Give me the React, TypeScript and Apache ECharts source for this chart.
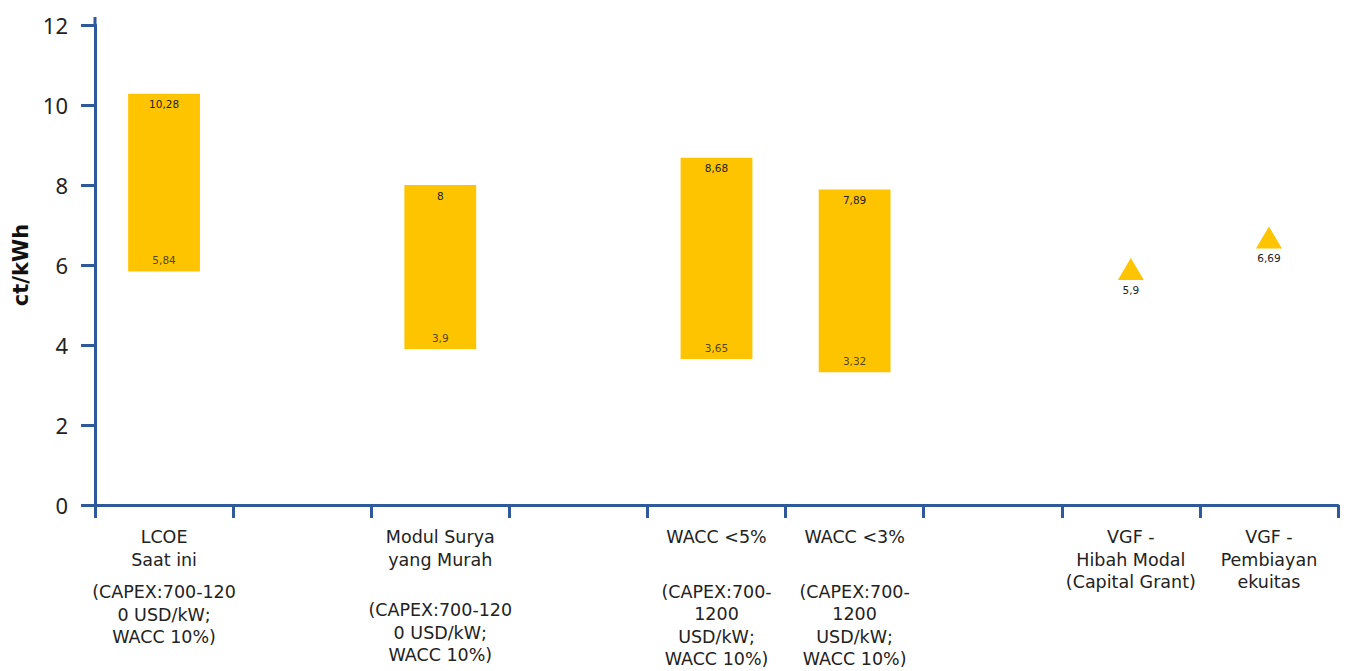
import React, { useEffect, useRef } from "react";
import * as echarts from "echarts";

const categories = [
  "{t|LCOE}\n{t|Saat ini}\n{g10| }\n{t|(CAPEX:700-120}\n{t|0 USD/kW;}\n{t|WACC 10%)}",
  "",
  "{t|Modul Surya}\n{t|yang Murah}\n{g28| }\n{t|(CAPEX:700-120}\n{t|0 USD/kW;}\n{t|WACC 10%)}",
  "",
  "{t|WACC <5%}\n{g32| }\n{t|(CAPEX:700-}\n{t|1200}\n{t|USD/kW;}\n{t|WACC 10%)}",
  "{t|WACC <3%}\n{g32| }\n{t|(CAPEX:700-}\n{t|1200}\n{t|USD/kW;}\n{t|WACC 10%)}",
  "",
  "{t|VGF -}\n{t|Hibah Modal}\n{t|(Capital Grant)}",
  "{t|VGF -}\n{t|Pembiayan}\n{t|ekuitas}",
];
const lows: (number | null)[] = [5.84, null, 3.9, null, 3.65, 3.32, null, null, null];
const highs: (number | null)[] = [10.28, null, 8, null, 8.68, 7.89, null, null, null];
const markers: (number | null)[] = [null, null, null, null, null, null, null, 5.9, 6.69];
const yTicks = { min: 0, max: 12, interval: 2 };

const FONT = "DejaVu Sans";
const BLUE = "#2E5A9C";
const YELLOW = "#FFC400";

const fmt = (v: number | null) => (v == null ? "" : String(v).replace(".", ","));

export default function App() {
  const ref = useRef<HTMLDivElement>(null);
  useEffect(() => {
    if (!ref.current) return;
    const chart = echarts.init(ref.current, null, { renderer: "svg" });
    const dash = (a: (number | null)[]) => a.map((v) => (v == null ? "-" : v));
    const diffs = lows.map((l, i) =>
      l == null || highs[i] == null ? "-" : +((highs[i] as number) - l).toFixed(4)
    );
    chart.setOption({
      animation: false,
      textStyle: { fontFamily: FONT },
      grid: { left: 95, right: 10, top: 25, bottom: 166, containLabel: false },
      graphic: [
        {
          type: "line",
          shape: { x1: 95, y1: 17, x2: 95, y2: 26 },
          style: { stroke: BLUE, lineWidth: 3 },
          silent: true,
        },
      ],
      xAxis: {
        type: "category",
        data: categories,
        boundaryGap: true,
        axisLine: { lineStyle: { color: BLUE, width: 3 } },
        axisTick: { show: true, interval: 0, length: 13, lineStyle: { color: BLUE, width: 3 } },
        axisLabel: {
          interval: 0,
          margin: 21,
          color: "#222",
          fontFamily: FONT,
          rich: {
            t: { fontSize: 17.5, lineHeight: 22.5, color: "#222", fontFamily: FONT },
            g10: { fontSize: 1, lineHeight: 10 },
            g28: { fontSize: 1, lineHeight: 28 },
            g32: { fontSize: 1, lineHeight: 32 },
          },
        },
      },
      yAxis: {
        type: "value",
        min: yTicks.min,
        max: yTicks.max,
        interval: yTicks.interval,
        name: "ct/kWh",
        nameLocation: "middle",
        nameGap: 62,
        nameTextStyle: { fontSize: 21, fontWeight: "bold", color: "#111", fontFamily: FONT },
        axisLine: { show: true, lineStyle: { color: BLUE, width: 3 } },
        axisTick: { show: true, length: 14, lineStyle: { color: BLUE, width: 3 } },
        axisLabel: { fontSize: 22, color: "#222", margin: 27, fontFamily: "Noto Sans" },
        splitLine: { show: false },
      },
      series: [
        {
          type: "bar",
          name: "base",
          stack: "range",
          barWidth: "52%",
          data: dash(lows),
          itemStyle: { color: "transparent" },
          silent: true,
        },
        {
          type: "bar",
          name: "range",
          stack: "range",
          barWidth: "52%",
          data: diffs,
          itemStyle: { color: YELLOW },
          label: {
            show: true,
            position: "insideTop",
            distance: 5,
            fontSize: 10.5,
            color: "#222",
            formatter: (p: any) => fmt(highs[p.dataIndex]),
          },
        },
        {
          type: "scatter",
          name: "lowLabels",
          data: dash(lows),
          symbolSize: 0,
          label: {
            show: true,
            position: "top",
            distance: 6,
            fontSize: 10.5,
            color: "#222",
            formatter: (p: any) => fmt(lows[p.dataIndex]),
          },
          z: 5,
        },
        {
          type: "scatter",
          name: "vgf",
          data: dash(markers),
          symbol: "triangle",
          symbolSize: [26, 22],
          itemStyle: { color: YELLOW, opacity: 1 },
          label: {
            show: true,
            position: "bottom",
            distance: 4,
            fontSize: 10.5,
            color: "#222",
            formatter: (p: any) => fmt(markers[p.dataIndex]),
          },
        },
      ],
    });
    return () => chart.dispose();
  }, []);
  return (
    <div
      ref={ref}
      style={{ position: "fixed", left: 0, top: 0, width: 1348, height: 671, background: "#fff" }}
    />
  );
}
